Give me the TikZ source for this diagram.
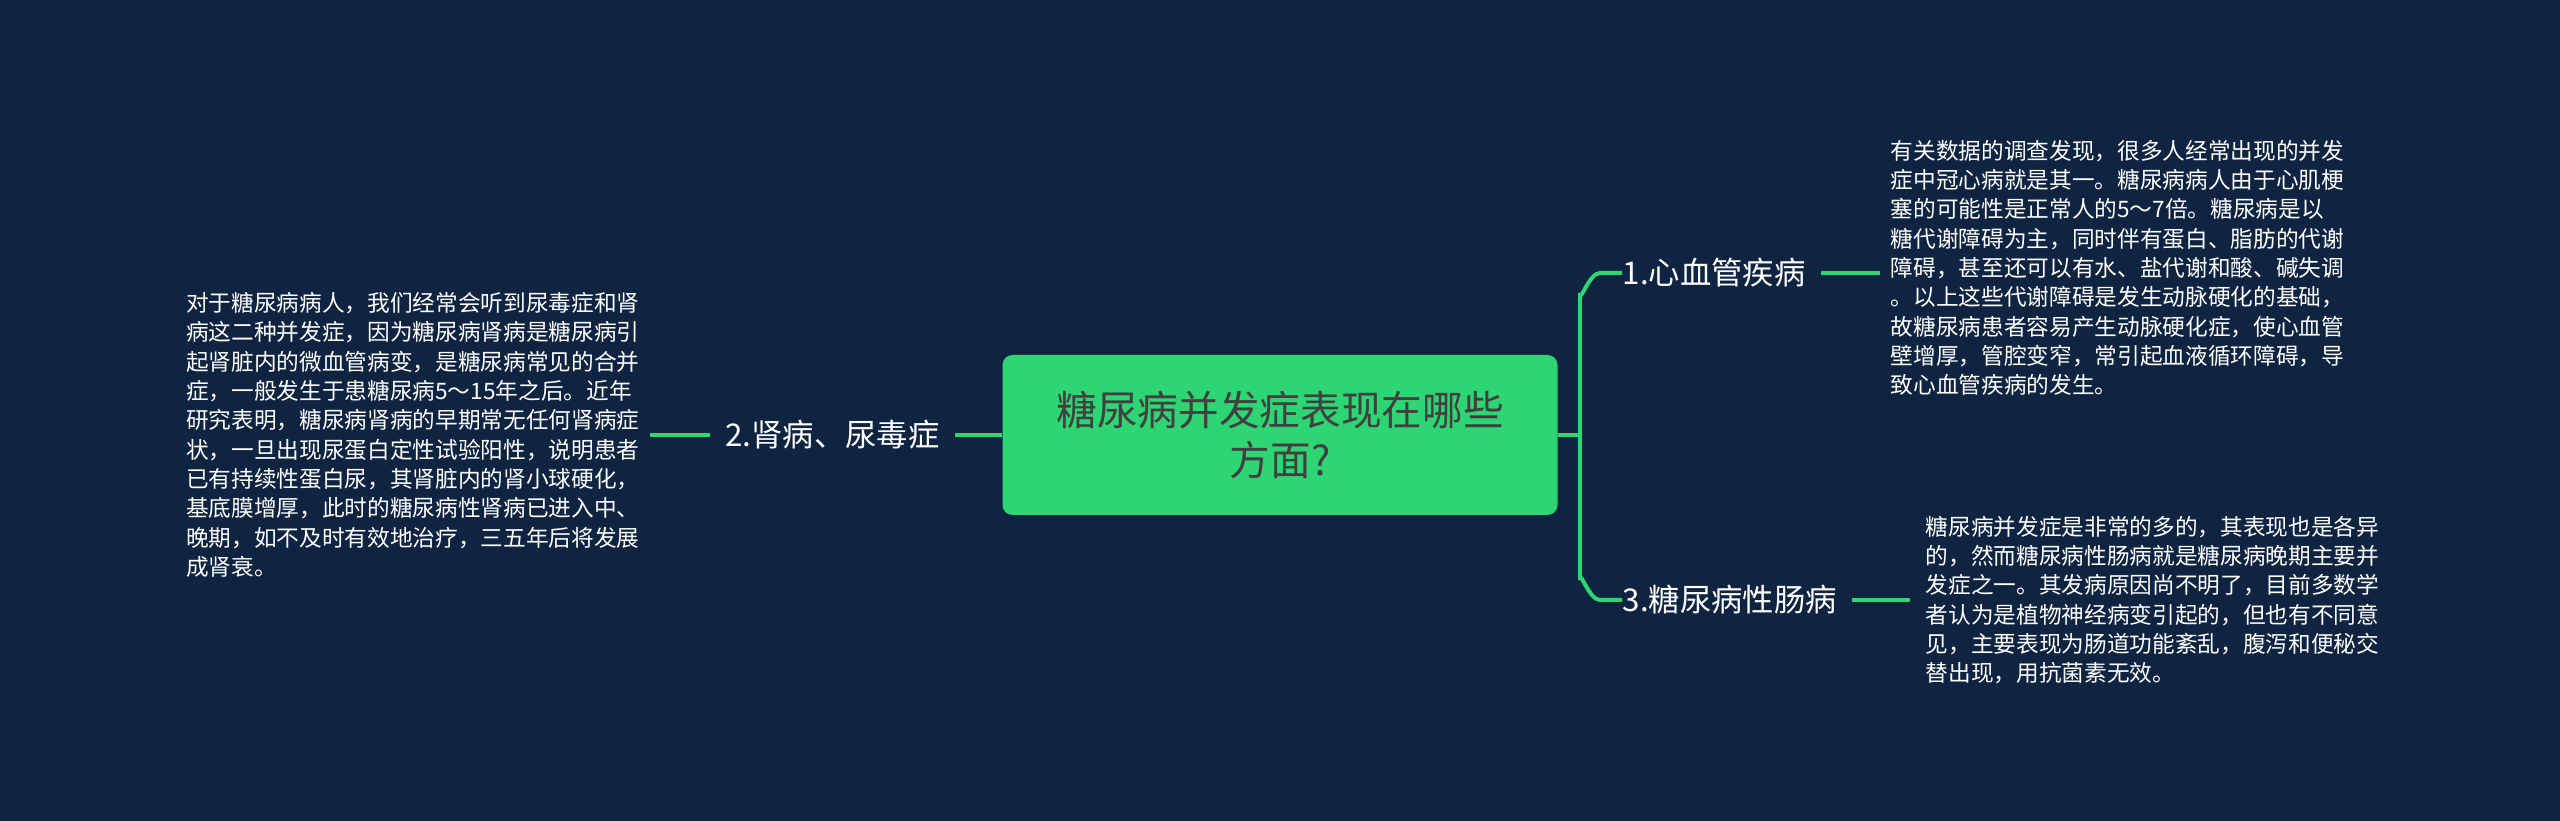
\documentclass[tikz,border=0pt]{standalone}
\usepackage{fontspec}
\setmainfont{Noto Sans CJK SC}
\definecolor{bg}{HTML}{0E2440}
\definecolor{gr}{HTML}{2ED573}
\definecolor{tx}{HTML}{FFFFFF}
\begin{document}
\begin{tikzpicture}[x=0.3pt,y=-0.3pt,
 body/.style={text=tx,font=\fontsize{6.8}{8.8}\selectfont,align=left,inner sep=0},
 branch/.style={text=tx,font=\fontsize{9.4}{11}\selectfont,inner sep=0},
 link/.style={draw=gr,line width=1.2pt}]
\fill[bg] (0,0) rectangle (2560,821);
\node[fill=gr,rounded corners=3pt,minimum width=555*0.3pt,minimum height=160*0.3pt,
 text=black!75,font=\fontsize{12.2}{15}\selectfont,align=center] (c) at (1280,435) {糖尿病并发症表现在哪些\\方面?};
\node[branch,anchor=west] (b1) at (1622,273) {1.心血管疾病};
\node[branch,anchor=west] (b3) at (1622,600) {3.糖尿病性肠病};
\node[branch,anchor=east] (b2) at (940,435) {2.肾病、尿毒症};
\coordinate (j) at (1580,435);
\draw[link] (c.east) -- (j);
\draw[link] (j) -- (1580,293) to[out=-90,in=180] (1600,273) -- (b1.west);
\draw[link] (j) -- (1580,580) to[out=90,in=180] (1600,600) -- (b3.west);
\draw[link] (c.west) -- ([xshift=4.5pt]b2.east);
\node[body,anchor=west] (t1) at (1890,268) {有关数据的调查发现，很多人经常出现的并发\\症中冠心病就是其一。糖尿病病人由于心肌梗\\塞的可能性是正常人的5～7倍。糖尿病是以\\糖代谢障碍为主，同时伴有蛋白、脂肪的代谢\\障碍，甚至还可以有水、盐代谢和酸、碱失调\\。以上这些代谢障碍是发生动脉硬化的基础，\\故糖尿病患者容易产生动脉硬化症，使心血管\\壁增厚，管腔变窄，常引起血液循环障碍，导\\致心血管疾病的发生。};
\node[body,anchor=west] (t3) at (1925,600) {糖尿病并发症是非常的多的，其表现也是各异\\的，然而糖尿病性肠病就是糖尿病晚期主要并\\发症之一。其发病原因尚不明了，目前多数学\\者认为是植物神经病变引起的，但也有不同意\\见，主要表现为肠道功能紊乱，腹泻和便秘交\\替出现，用抗菌素无效。};
\node[body,anchor=east] (t2) at (640,435) {对于糖尿病病人，我们经常会听到尿毒症和肾\\病这二种并发症，因为糖尿病肾病是糖尿病引\\起肾脏内的微血管病变，是糖尿病常见的合并\\症，一般发生于患糖尿病5～15年之后。近年\\研究表明，糖尿病肾病的早期常无任何肾病症\\状，一旦出现尿蛋白定性试验阳性，说明患者\\已有持续性蛋白尿，其肾脏内的肾小球硬化，\\基底膜增厚，此时的糖尿病性肾病已进入中、\\晚期，如不及时有效地治疗，三五年后将发展\\成肾衰。};
\draw[link] ([xshift=4.5pt]b1.east) -- ([xshift=-3pt]t1.west |- b1);
\draw[link] ([xshift=4.5pt]b3.east) -- ([xshift=-4.5pt]t3.west |- b3);
\draw[link] ([xshift=-4.5pt]b2.west) -- ([xshift=3pt]t2.east);
\end{tikzpicture}
\end{document}
